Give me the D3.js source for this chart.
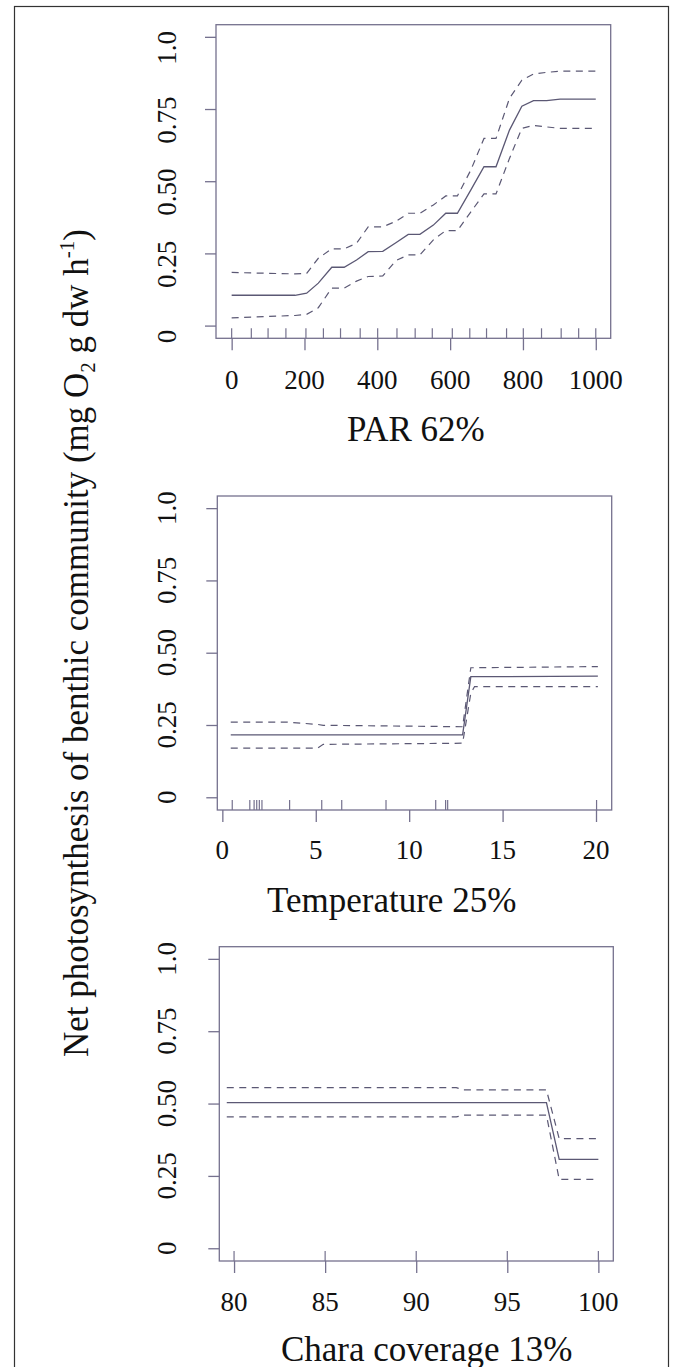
<!DOCTYPE html>
<html>
<head>
<meta charset="utf-8">
<script src="https://cdn.jsdelivr.net/npm/d3@7"></script>
<style>
  html, body { margin: 0; padding: 0; background: #fff; }
  svg { display: block; }
  text { font-family: "Liberation Serif", "Times New Roman", serif; fill: #111; }
</style>
</head>
<body>
<svg id="chart" width="673" height="1367"></svg>
<script>
// ---------------- DATA ----------------
const yTicks = [0, 0.25, 0.5, 0.75, 1.0];
const yTickLabels = ["0", "0.25", "0.50", "0.75", "1.0"];

// Panel 1: PAR
const parX     = [0, 174, 206, 238, 275, 309, 343, 375, 415, 451, 485, 517, 554, 588, 620, 657, 693, 726, 763, 797, 829, 865, 902, 1000];
const parFit   = [0.105, 0.105, 0.112, 0.147, 0.202, 0.202, 0.227, 0.256, 0.257, 0.287, 0.316, 0.316, 0.348, 0.389, 0.389, 0.470, 0.550, 0.550, 0.677, 0.760, 0.779, 0.779, 0.784, 0.784];
const parUpper = [0.184, 0.179, 0.181, 0.233, 0.266, 0.266, 0.285, 0.342, 0.342, 0.361, 0.389, 0.389, 0.418, 0.449, 0.449, 0.539, 0.648, 0.648, 0.787, 0.850, 0.871, 0.877, 0.881, 0.881];
const parLower = [0.027, 0.035, 0.039, 0.062, 0.130, 0.130, 0.154, 0.170, 0.172, 0.225, 0.245, 0.245, 0.297, 0.329, 0.329, 0.394, 0.456, 0.456, 0.579, 0.683, 0.693, 0.688, 0.683, 0.683];
const parRug   = [0, 54, 100, 149, 204, 252, 299, 353, 401, 454, 504, 551, 606, 654, 700, 755, 801, 851, 905, 953, 1000];
const parTicks = [0, 200, 400, 600, 800, 1000];

// Panel 2: Temperature
const tempX     = [0.45, 3.5, 5.1, 5.4, 12.86, 13.3, 13.5, 20.1];
const tempFit   = [0.216, 0.216, 0.216, 0.216, 0.216, 0.417, 0.417, 0.419];
const tempUpper = [0.260, 0.260, 0.252, 0.249, 0.244, 0.448, 0.448, 0.452];
const tempLower = [0.170, 0.170, 0.170, 0.183, 0.187, 0.360, 0.383, 0.383];
const tempRug   = [0.53, 1.47, 1.70, 1.84, 1.98, 2.12, 3.6, 5.32, 6.39, 8.76, 11.42, 11.95, 12.06, 20.03];
const tempTicks = [0, 5, 10, 15, 20];

// Panel 3: Chara coverage
const charaX     = [79.6, 92.2, 92.6, 97.15, 97.85, 100];
const charaFit   = [0.503, 0.503, 0.503, 0.503, 0.307, 0.307];
const charaUpper = [0.555, 0.555, 0.547, 0.547, 0.379, 0.379];
const charaLower = [0.454, 0.454, 0.460, 0.460, 0.238, 0.238];
const charaRug   = [80, 85, 90, 95, 100];
const charaTicks = [80, 85, 90, 95, 100];

const yAxisTitle = "Net photosynthesis of benthic community";

// ---------------- LAYOUT ----------------
const panels = [
  { x: parX, fit: parFit, up: parUpper, lo: parLower, rug: parRug, ticks: parTicks,
    title: "PAR 62%", xDomain: [-43, 1041],
    left: 216, right: 610.7, top: 24.7, bottom: 338.3,
    tickBaseline: 389, titleX: 415.8, titleY: 441, yLabShift: 11 },
  { x: tempX, fit: tempFit, up: tempUpper, lo: tempLower, rug: tempRug, ticks: tempTicks,
    title: "Temperature 25%", xDomain: [-0.27, 20.84],
    left: 217.3, right: 611.7, top: 496, bottom: 810,
    tickBaseline: 859, titleX: 391.7, titleY: 911.7, yLabShift: 0 },
  { x: charaX, fit: charaFit, up: charaUpper, lo: charaLower, rug: charaRug, ticks: charaTicks,
    title: "Chara coverage 13%", xDomain: [79.19, 100.82],
    left: 219.3, right: 613.3, top: 946.7, bottom: 1261,
    tickBaseline: 1311, titleX: 426.7, titleY: 1360.5, yLabShift: 0 }
];

const boxColor = "#75718e";
const lineColor = "#5b5874";

const svg = d3.select("#chart");

// outer frame
svg.append("rect")
  .attr("x", 14.5).attr("y", 6.5)
  .attr("width", 654).attr("height", 1400)
  .attr("fill", "none").attr("stroke", "#333").attr("stroke-width", 1.2);

panels.forEach(p => {
  const xs = d3.scaleLinear().domain(p.xDomain).range([p.left, p.right]);
  const ys = d3.scaleLinear().domain([-0.044, 1.042]).range([p.bottom, p.top]);
  const g = svg.append("g");

  // box
  g.append("rect")
    .attr("x", p.left).attr("y", p.top)
    .attr("width", p.right - p.left).attr("height", p.bottom - p.top)
    .attr("fill", "none").attr("stroke", boxColor).attr("stroke-width", 1.3);

  // x axis ticks
  const xa = g.append("g")
    .attr("transform", `translate(0,${p.bottom})`)
    .call(d3.axisBottom(xs).tickValues(p.ticks).tickSize(12).tickFormat(""));
  xa.select(".domain").remove();
  xa.selectAll("line").attr("stroke", boxColor).attr("stroke-width", 1.3);

  // x tick labels
  g.selectAll(".xl").data(p.ticks).join("text")
    .attr("x", d => xs(d)).attr("y", p.tickBaseline)
    .attr("text-anchor", "middle").attr("font-size", 27)
    .text(d => d3.format("d")(d));

  // y axis ticks
  const ya = g.append("g")
    .attr("transform", `translate(${p.left},0)`)
    .call(d3.axisLeft(ys).tickValues(yTicks).tickSize(11).tickFormat(""));
  ya.select(".domain").remove();
  ya.selectAll("line").attr("stroke", boxColor).attr("stroke-width", 1.3);

  // y tick labels (rotated)
  g.selectAll(".yl").data(yTicks).join("text")
    .attr("transform", (d) => `translate(176,${ys(d) + p.yLabShift}) rotate(-90)`)
    .attr("text-anchor", "middle").attr("font-size", 27)
    .text((d, i) => yTickLabels[i]);

  // rug
  g.selectAll(".rug").data(p.rug).join("line")
    .attr("x1", d => xs(d)).attr("x2", d => xs(d))
    .attr("y1", p.bottom).attr("y2", p.bottom - 10)
    .attr("stroke", boxColor).attr("stroke-width", 1.2);

  // curves
  const pts = arr => p.x.map((xv, i) => [xs(xv), ys(arr[i])]);
  const line = d3.line();
  g.append("path").attr("d", line(pts(p.up)))
    .attr("fill", "none").attr("stroke", lineColor).attr("stroke-width", 1.2)
    .attr("stroke-dasharray", "7,5.5");
  g.append("path").attr("d", line(pts(p.lo)))
    .attr("fill", "none").attr("stroke", lineColor).attr("stroke-width", 1.2)
    .attr("stroke-dasharray", "7,5.5");
  g.append("path").attr("d", line(pts(p.fit)))
    .attr("fill", "none").attr("stroke", lineColor).attr("stroke-width", 1.3);

  // panel title
  g.append("text")
    .attr("x", p.titleX).attr("y", p.titleY)
    .attr("text-anchor", "middle").attr("font-size", 35)
    .text(p.title);
});

// y axis title with sub/superscripts
const yt = svg.append("text")
  .attr("transform", "translate(88,643) rotate(-90)")
  .attr("text-anchor", "middle").attr("font-size", 35);
yt.append("tspan").text(yAxisTitle + " (mg O");
yt.append("tspan").attr("font-size", 21).attr("dy", 7).text("2");
yt.append("tspan").attr("dy", -7).text(" g dw h");
yt.append("tspan").attr("font-size", 21).attr("dy", -14).text("-1");
yt.append("tspan").attr("dy", 14).text(")");
</script>
</body>
</html>
